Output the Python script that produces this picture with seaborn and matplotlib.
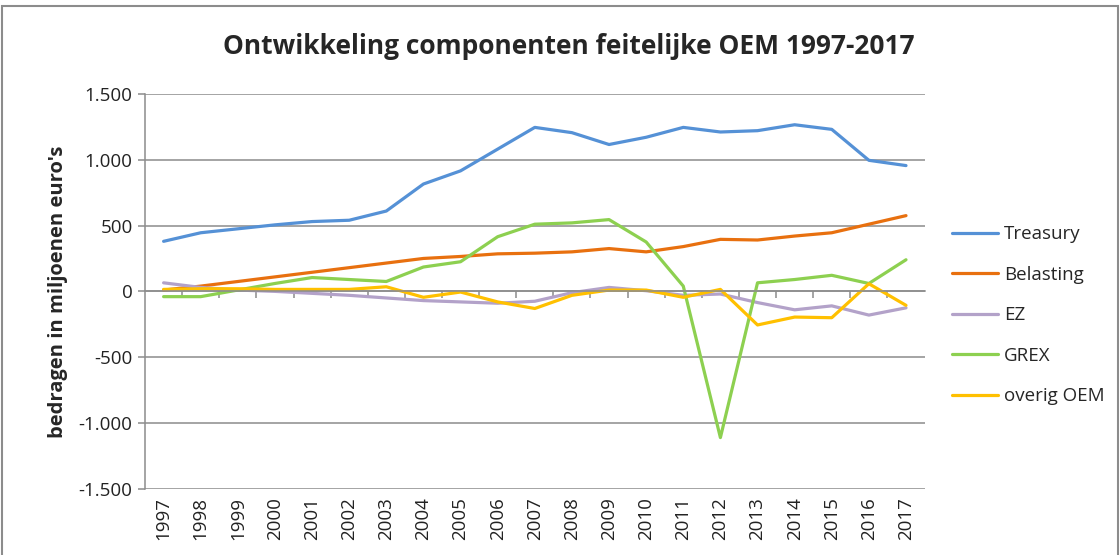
import numpy as np
import pandas as pd
import matplotlib
matplotlib.use('Agg')
import matplotlib.pyplot as plt
import matplotlib.ticker as mticker
from matplotlib.patches import Rectangle
import seaborn as sns

years = [str(y) for y in range(1997, 2018)]
treasury = [380, 445, 475, 505, 530, 540, 610, 815, 915, 1080, 1245, 1205, 1115, 1170, 1245, 1210, 1220, 1265, 1230, 995, 955]
belasting = [10, 40, 75, 110, 145, 180, 215, 250, 265, 285, 290, 300, 325, 300, 340, 395, 390, 420, 445, 510, 575]
ez = [65, 30, 10, 0, -15, -30, -50, -70, -80, -90, -75, -10, 30, 5, -30, -20, -85, -140, -110, -180, -125]
grex = [-40, -40, 10, 60, 105, 90, 75, 185, 225, 415, 510, 520, 545, 375, 40, -1110, 65, 90, 122, 60, 240]
overig = [15, 20, 20, 15, 15, 15, 35, -45, -5, -80, -130, -30, 10, 10, -45, 15, -255, -195, -200, 58, -106]

series = {'Treasury': treasury, 'Belasting': belasting, 'EZ': ez, 'GREX': grex, 'overig OEM': overig}
colors = ['#5591D6', '#E8700F', '#B3A2C9', '#8DD050', '#FFC000']

df = pd.DataFrame([
    {'pos': i, 'jaar': years[i], 'reeks': name, 'bedrag': vals[i]}
    for name, vals in series.items() for i in range(len(years))
])

sns.set_style('white')
plt.rcParams['font.family'] = ['Open Sans', 'DejaVu Sans']

fig = plt.figure(figsize=(11.2, 5.55), dpi=100)
ax = fig.add_axes([0.1295, 0.119, 0.696, 0.712])

sns.lineplot(data=df, x='pos', y='bedrag', hue='reeks', palette=colors,
             linewidth=2.3, ax=ax, sort=False)

grid_c = '#8c8c8c'
ax.set_xlim(-0.5, len(years) - 0.5)
ax.set_ylim(-1500, 1500)
ax.set_yticks(np.arange(-1500, 1501, 500))
ax.yaxis.set_major_formatter(mticker.FuncFormatter(lambda v, p: f'{int(v):,}'.replace(',', '.')))
ax.yaxis.grid(True, color=grid_c, linewidth=1.1)
ax.tick_params(axis='y', labelsize=13.5, length=5, width=1.1, color=grid_c, left=True, pad=4,
               labelcolor='#222222')

# category axis crossing at zero, ticks between categories
for s in ['top', 'right']:
    ax.spines[s].set_visible(False)
ax.spines['left'].set_color(grid_c)
ax.spines['left'].set_linewidth(1.1)
ax.spines['bottom'].set_position(('data', 0))
ax.spines['bottom'].set_color(grid_c)
ax.spines['bottom'].set_linewidth(1.1)
ax.set_xticks(range(len(years)))
ax.set_xticklabels([])
ax.tick_params(axis='x', which='major', length=0)
ax.xaxis.set_minor_locator(mticker.FixedLocator(np.arange(0.5, len(years) - 0.5, 1)))
ax.tick_params(axis='x', which='minor', length=5, width=1.1, color=grid_c, direction='out', bottom=True)
ax.set_xlabel('')

sec = ax.secondary_xaxis(0)
sec.set_xticks(range(len(years)))
sec.set_xticklabels(years, rotation=90, fontsize=13.5, color='#222222')
sec.tick_params(length=0, pad=6)
sec.spines['bottom'].set_visible(False)

ax.set_ylabel("bedragen in miljoenen euro's", fontsize=14.5, fontweight='bold', labelpad=8)
fig.text(0.508, 0.917, 'Ontwikkeling componenten feitelijke OEM 1997-2017',
         ha='center', va='center', fontsize=19, fontweight='bold')

ax.legend(title=None, frameon=False, loc='center left', bbox_to_anchor=(1.013, 0.44),
          fontsize=13.5, labelspacing=1.2, handlelength=2.5, handletextpad=0.3)

fig.patches.append(Rectangle((0.002, -0.01), 0.996, 1.0, transform=fig.transFigure,
                             fill=False, edgecolor='#8c8c8c', linewidth=1.5))

fig.savefig('out.png', dpi=100)
